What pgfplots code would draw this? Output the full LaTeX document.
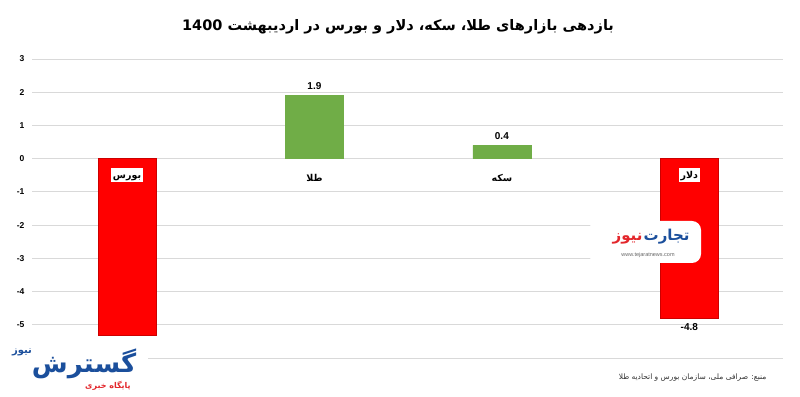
\documentclass[border=0pt]{standalone}
\usepackage{pgfplots}
\pgfplotsset{compat=1.18}
\usepackage{fontspec}
\setmainfont{Liberation Sans}
\newfontfamily\arabicfont[Script=Arabic]{DejaVu Sans}
\TeXXeTstate=1
\definecolor{barred}{HTML}{FF0000}
\definecolor{bargreen}{HTML}{70AD47}
\definecolor{gridgray}{HTML}{D9D9D9}
\definecolor{logoblue}{HTML}{1B4F9C}
\definecolor{logored}{HTML}{E3262B}
\begin{document}
\begin{tikzpicture}
\useasboundingbox (0pt,0pt) rectangle (800pt,396pt);
\fill[white] (0pt,0pt) rectangle (800pt,396pt);
\begin{axis}[
  at={(32pt,38pt)}, anchor=south west,
  scale only axis, width=751pt, height=299pt,
  xmin=-0.507, xmax=3.50, ymin=-6, ymax=3,
  axis line style={draw=none},
  xtick=\empty,
  ytick={-6,-5,...,3},
  yticklabels={,-5,-4,-3,-2,-1,0,1,2,3},
  major tick length=0pt,
  ymajorgrids, grid style={gridgray, line width=0.8pt},
  y tick label style={font=\fontsize{8.5}{10}\selectfont\bfseries, xshift=-4pt},
  /pgf/number format/assume math mode=true,
  ybar, bar width=58pt,
  clip=false,
]
\addplot[fill=barred, draw=barred!80!black, bar shift=0pt] coordinates {(0,-5.3)};
\addplot[fill=barred, draw=barred!80!black, bar shift=0pt,
  nodes near coords, nodes near coords style={font=\fontsize{10}{12}\selectfont\bfseries, below, yshift=-2pt},
  /pgf/number format/fixed, /pgf/number format/precision=1, /pgf/number format/fixed zerofill] coordinates {(3,-4.8)};
\addplot[fill=bargreen, draw=bargreen, bar shift=0pt,
  nodes near coords, nodes near coords style={font=\fontsize{10}{12}\selectfont\bfseries, above, yshift=2pt},
  /pgf/number format/fixed, /pgf/number format/precision=1, /pgf/number format/fixed zerofill] coordinates {(1,1.9) (2,0.4)};
\node[fill=white, inner xsep=1.5pt, inner ysep=1pt, text height=9pt, text depth=3pt, font=\fontsize{9.5}{11}\arabicfont\bfseries] at (axis cs:0,-0.5) {\beginR بورس\endR};
\node[fill=white, inner xsep=1.5pt, inner ysep=1pt, text height=9pt, text depth=3pt, font=\fontsize{9.5}{11}\arabicfont\bfseries] at (axis cs:3,-0.5) {\beginR دلار\endR};
\node[font=\fontsize{9.5}{11}\arabicfont\bfseries] at (axis cs:1,-0.58) {\beginR طلا\endR};
\node[font=\fontsize{9.5}{11}\arabicfont\bfseries] at (axis cs:2,-0.58) {\beginR سکه\endR};
\end{axis}
% title
\node[font=\fontsize{14.5}{18}\arabicfont\bfseries] at (398pt,369pt) {\beginR بازدهی بازارهای طلا، سکه، دلار و بورس در اردیبهشت \beginL 1400\endL\endR};
% source
\node[anchor=east, font=\fontsize{7.5}{9}\arabicfont, text=black!80] at (770pt,18pt) {\beginR منبع: صرافی ملی، سازمان بورس و اتحادیه طلا\endR};
% tejarat watermark
\node[fill=white, rounded corners=9pt, minimum width=112pt, minimum height=42pt] at (645pt,154pt) {};
\node[anchor=east, font=\fontsize{15}{16}\arabicfont\bfseries, text=logoblue] at (693pt,159pt) {\beginR تجارت\endR};
\node[anchor=east, font=\fontsize{15}{16}\arabicfont\bfseries, text=logored] at (646pt,157pt) {\beginR نیوز\endR};
\node[font=\fontsize{5.5}{6}\selectfont, text=black!60] at (648pt,141pt) {www.tejaratnews.com};
% gostaresh logo
\fill[white] (0pt,0pt) rectangle (148pt,56pt);
\node[font=\fontsize{26}{28}\arabicfont\bfseries, text=logoblue] at (84pt,32pt) {\beginR گسترش\endR};
\node[font=\fontsize{10}{12}\arabicfont\bfseries, text=logoblue] at (22pt,44pt) {\beginR نیوز\endR};
\node[font=\fontsize{8}{10}\arabicfont\bfseries, text=logored] at (108pt,10pt) {\beginR پایگاه خبری\endR};
\end{tikzpicture}
\end{document}
